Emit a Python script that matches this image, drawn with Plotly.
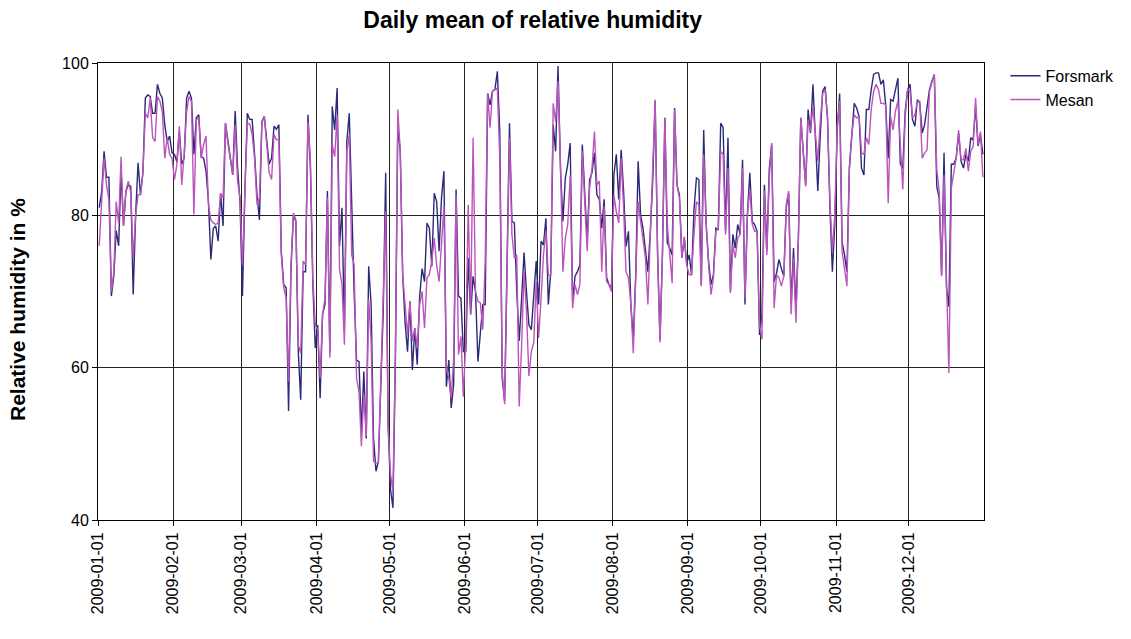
import pandas as pd
import plotly.graph_objects as go

# daily mean relative humidity 2009, one row per month
forsmark = [
    81, 83, 88.4, 85, 85, 69.4, 72, 78, 76, 86, 78.6, 83.2, 84, 83.8, 69.6, 80, 86.9, 82.7, 85.6, 95.4, 95.8, 95.6, 93.4, 93.4, 97.2, 96, 95.4, 91.9, 89.7, 90.4, 88.2,
    88, 87, 91, 86.7, 87.5, 95.4, 96.3, 95.4, 88, 92.8, 93.2, 87.7, 87.5, 85.8, 81.8, 74.2, 78.3, 78.6, 76.6, 82.9, 78.6, 92.1, 89.7, 87.5, 85.3, 93.7, 86.2, 81.8,
    69.4, 83, 93.4, 92.6, 92.6, 88, 82.7, 79.4, 92.3, 93, 89.7, 86.7, 87.5, 91.7, 91.3, 91.9, 75.3, 70.9, 70.5, 54.3, 73, 80, 79.2, 62.1, 55.8, 72.6, 72.6, 93.2, 86.2, 70.9, 62.6,
    65.6, 56, 67, 68.3, 83.2, 62, 94.3, 91.2, 96.7, 75.9, 81, 64.8, 89.7, 93.4, 80.3, 70, 61, 60.8, 51.6, 59.5, 50.7, 73.3, 68.3, 50.7, 46.4, 47.7, 57.8, 67.4, 85.6, 52.5,
    44, 41.6, 61, 91.9, 88.4, 72.2, 65.9, 62.1, 68.7, 59.7, 65.2, 60.4, 69.4, 73, 71.3, 79, 78.3, 73.3, 82.9, 81.8, 75.3, 82.3, 85.8, 57.5, 61, 54.7, 57.8, 83.4, 69.4, 69.1, 62.1,
    62.1, 74.4, 67, 72, 70, 60.8, 64.8, 68.3, 68.3, 96, 94.5, 96.3, 96.5, 98.9, 91, 58.6, 55.6, 72.6, 92.1, 79.2, 79, 70, 63.5, 69.1, 75.1, 70, 65.6, 65, 70, 74,
    68.3, 76.6, 76.1, 79.6, 68.3, 72.6, 91.9, 88.4, 99.6, 86.2, 79.2, 84.9, 86.7, 89.5, 68.7, 72, 72.6, 73.5, 89.3, 83.2, 76.6, 84.7, 85.6, 88.2, 82.7, 82.1, 78.3, 82.1, 71.8, 70.9, 70.5,
    85.3, 88, 82.1, 88.6, 83.2, 75.9, 77.9, 68.3, 63.7, 72.2, 87.1, 80.1, 78.3, 75.3, 72.6, 77.9, 84.5, 95, 75.3, 63.7, 74.8, 92.8, 76.4, 75.7, 74.8, 94.1, 84, 82.7, 74.4, 77, 73.7,
    74.8, 72.2, 80.7, 84.9, 84.7, 70.9, 91.2, 78.8, 74, 70.9, 72.2, 78.3, 78.1, 92.1, 91.5, 77.9, 90.2, 70, 77.5, 75.7, 78.8, 77.5, 87.3, 68.3, 80.1, 85.6, 79.2, 78.8, 77.9, 64.3,
    67, 84, 75.3, 86, 89.3, 71.3, 72.4, 74.2, 73, 72, 81, 82.9, 68.3, 75.7, 67.4, 77, 92.8, 88.4, 84, 93.9, 90.8, 97.2, 90.6, 83.2, 90.4, 96.3, 96.9, 92.8, 81, 72.6, 78.8,
    91.2, 96, 76.5, 74.8, 72.6, 86.2, 91, 94.7, 94.1, 93, 86.2, 85.3, 93.9, 93.9, 96.5, 98.5, 98.7, 98.7, 97.2, 97.8, 94.3, 87.5, 95.2, 95, 96.5, 98, 86.7, 86.2, 93.7, 96.5,
    97.2, 92.6, 91.7, 95.2, 94.7, 90.8, 91.9, 94.1, 96.5, 97.6, 98.5, 83.8, 82.3, 72.2, 88.2, 70.5, 68, 86.7, 86.7, 87.5, 90.8, 87.1, 86.2, 88, 87.1, 90.2, 89.9, 94.3, 89.1, 90.6, 88,
]

mesan = [
    76, 81, 87.5, 84, 82, 70, 72.5, 81.8, 79, 87.7, 78.6, 83.2, 84.5, 83, 74.4, 80, 82.7, 82.7, 85.6, 93.4, 92.8, 95.4, 90.2, 89.7, 95.6, 95, 93.6, 87.5, 90.2, 88, 87.5,
    84.7, 86.7, 91.7, 84, 88, 93.6, 95.6, 95, 80.1, 92.6, 92.8, 87.5, 89.3, 90.4, 81.4, 79.4, 79, 78.8, 79, 82.9, 82.3, 92.1, 89.5, 87.3, 85.3, 91.9, 84.5, 82.3,
    73.5, 83, 92.1, 92, 90.6, 87.5, 81.4, 82.3, 92.1, 93, 89.3, 85.6, 84.7, 90.6, 89.9, 90, 74.8, 70.5, 69.1, 58.2, 73.5, 80.3, 79.4, 63, 61.9, 74, 73.5, 92.3, 87.1, 71.8, 65.6,
    65, 58.6, 67, 69.1, 82.3, 61.3, 89.3, 87.7, 93.2, 72.9, 70.9, 63, 88.4, 90.6, 74.8, 73.5, 58.6, 56.9, 49.7, 56.5, 51, 68.9, 63.5, 47.7, 47.5, 47.5, 58.2, 67.4, 80.5, 52.5,
    46, 43.8, 62, 93.9, 88.4, 72.2, 68.3, 64.3, 68.7, 63.5, 65.2, 62.6, 68.3, 70, 65.2, 71.8, 72.2, 74, 77, 73.5, 71.3, 76.1, 81.2, 60, 58.6, 56, 61.3, 82.7, 61.7, 64.1, 56.2,
    63.7, 81.4, 67, 90.2, 70, 68.7, 68.5, 65, 74, 96, 91.5, 96.3, 96.5, 96.7, 87.5, 59.5, 55.2, 73, 90.2, 77.5, 74.4, 74.8, 54.9, 63, 72.6, 67.4, 58.9, 62.1, 63.3, 71.3,
    63.9, 69.1, 74.8, 78, 72.2, 72, 94.7, 92.3, 97.6, 86.7, 72.6, 77, 78.8, 85.3, 67.8, 70.9, 69.6, 70.9, 88.4, 81.8, 75.3, 83.6, 86.2, 91, 84, 84.5, 72.6, 81.2, 71.3, 70.9, 70,
    82.7, 80.5, 79, 87.5, 81, 72.6, 71.8, 68.3, 61.9, 72, 81.8, 79.2, 77, 74.4, 68.3, 77.9, 84.5, 95.2, 74.5, 63.3, 74.8, 92.8, 78.8, 74.4, 71.1, 93.9, 84, 82.3, 74.4, 77.2, 73.5,
    72.2, 72.2, 77.5, 81.8, 81.4, 70.7, 88, 79.2, 73.5, 69.6, 71.8, 77.9, 78.3, 88.4, 88, 77.5, 86.2, 69.8, 76.1, 74.4, 77, 77.5, 86.2, 69.1, 80.1, 83.4, 78.8, 77.9, 77.9, 65.6,
    63.7, 83.2, 74.8, 84.9, 89.5, 67.8, 72.2, 71.8, 70.7, 72, 81.4, 83.2, 67, 74.4, 65.9, 76.8, 92.8, 87.5, 83.8, 92.6, 91, 94.3, 90.6, 87.1, 92.3, 96, 96.5, 92.8, 81.8, 75.3, 80.1,
    91.7, 95, 75.3, 73, 70.7, 86.2, 90.6, 93.2, 92.8, 93, 88.2, 88, 90.2, 89.3, 93.9, 96.3, 97.2, 96.5, 94.7, 94.7, 94.5, 81.6, 93, 91.2, 93.7, 95, 89.5, 83.4, 93, 96.5,
    96.3, 92.8, 93.2, 95, 95, 87.5, 88.2, 88.6, 96.3, 97.6, 98.5, 86, 83.2, 72, 85.3, 71.6, 59.3, 83.6, 85.3, 87.5, 91.2, 87.3, 87.3, 88.8, 85.8, 88.4, 89.1, 95.4, 89.3, 91, 85,
]

# points sit in the middle of each day slot, as in the original spreadsheet chart
days = pd.date_range("2009-01-01", periods=len(forsmark), freq="D") + pd.Timedelta(hours=12)

FONT = "Arial, Liberation Sans, sans-serif"

fig = go.Figure()
fig.add_trace(go.Scatter(x=days, y=forsmark, mode="lines", name="Forsmark",
                         line=dict(color="#2b2a78", width=1.4)))
fig.add_trace(go.Scatter(x=days, y=mesan, mode="lines", name="Mesan",
                         line=dict(color="#bb55bb", width=1.4)))

# y-axis title sits a little below the middle of the axis in the original, so place it by hand
fig.add_annotation(text="<b>Relative humidity in %</b>", textangle=-90,
                   xref="paper", yref="paper", x=-0.09, y=0.46,
                   xanchor="center", yanchor="middle", showarrow=False,
                   font=dict(size=21, color="black"))

fig.update_layout(
    width=1131, height=639,
    margin=dict(l=98, r=147, t=63, b=119),
    paper_bgcolor="white",
    plot_bgcolor="white",
    font=dict(family=FONT, size=16, color="black"),
    title=dict(text="<b>Daily mean of relative humidity</b>",
               x=0.471, xref="container", xanchor="center",
               y=0.969, yref="container", yanchor="middle",
               font=dict(size=23, color="black")),
    # container-anchored so the legend does not eat into the plot width
    legend=dict(x=0.889, y=0.908, xref="container", yref="container",
                xanchor="left", yanchor="top",
                font=dict(size=16), bgcolor="rgba(0,0,0,0)",
                tracegroupgap=0),
    xaxis=dict(
        type="date",
        range=["2009-01-01", "2009-12-31 23:00"],
        dtick="M1", tick0="2009-01-01",
        tickformat="%Y-%m-%d", tickangle=-90,
        tickfont=dict(size=16),
        ticks="outside", ticklen=5, tickcolor="black",
        showgrid=True, gridcolor="#222222", gridwidth=1,
        showline=True, linecolor="black", linewidth=1, mirror=True,
        zeroline=False, automargin=False,
    ),
    yaxis=dict(
        range=[40, 100],
        dtick=20,
        tickfont=dict(size=16),
        ticks="outside", ticklen=5, tickcolor="black",
        showgrid=True, gridcolor="#222222", gridwidth=1,
        showline=True, linecolor="black", linewidth=1, mirror=True,
        zeroline=False, automargin=False,
    ),
)

fig.write_html("out.html", config={"displayModeBar": False})

# drop the browser's default 8px body margin so the figure fills the window exactly
with open("out.html", encoding="utf-8") as f:
    page = f.read()
page = page.replace("<body>", '<body style="margin:0">', 1)
with open("out.html", "w", encoding="utf-8") as f:
    f.write(page)
